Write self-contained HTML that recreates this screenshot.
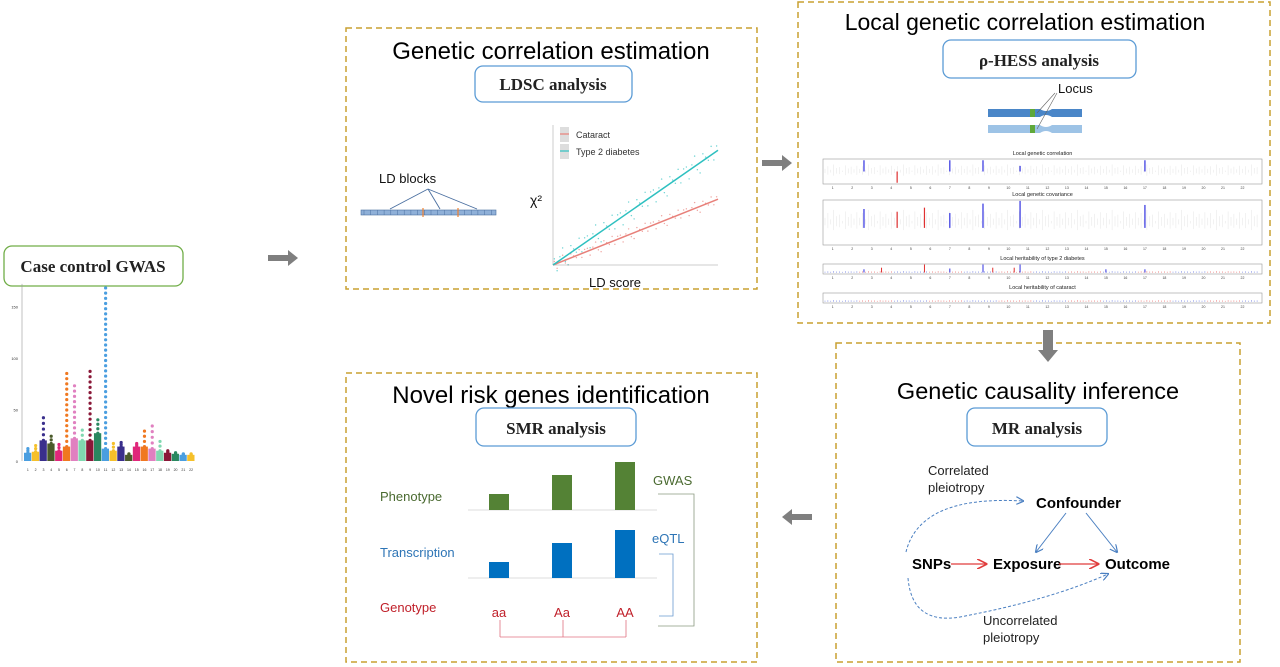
<!DOCTYPE html>
<html><head><meta charset="utf-8"><style>
body{margin:0;background:#fff}
svg{display:block;font-family:"Liberation Sans",sans-serif}
</style></head><body>
<svg id="fig" width="1280" height="667" viewBox="0 0 1280 667" xmlns="http://www.w3.org/2000/svg">
<defs>
<marker id="ab" markerWidth="8" markerHeight="8" refX="7" refY="4" orient="auto"><path d="M0,0 L8,4 L0,8" fill="none" stroke="#4a7fc1" stroke-width="1.2"/></marker>
<marker id="ar" markerWidth="8" markerHeight="8" refX="7" refY="4" orient="auto"><path d="M0,0 L8,4 L0,8" fill="none" stroke="#e03c3c" stroke-width="1.2"/></marker>
</defs>

<rect x="346" y="28" width="411" height="261" fill="none" stroke="#c9a030" stroke-width="1.5" stroke-dasharray="6,4"/>
<rect x="798" y="2" width="472" height="321" fill="none" stroke="#c9a030" stroke-width="1.5" stroke-dasharray="6,4"/>
<rect x="836" y="343" width="404" height="319" fill="none" stroke="#c9a030" stroke-width="1.5" stroke-dasharray="6,4"/>
<rect x="346" y="373" width="411" height="289" fill="none" stroke="#c9a030" stroke-width="1.5" stroke-dasharray="6,4"/>

<text x="551" y="59" font-size="24" text-anchor="middle" fill="#000">Genetic correlation estimation</text>
<text x="1025" y="30" font-size="23" text-anchor="middle" fill="#000">Local genetic correlation estimation</text>
<text x="551" y="403" font-size="24" text-anchor="middle" fill="#000">Novel risk genes identification</text>
<text x="1038" y="399" font-size="23.5" text-anchor="middle" fill="#000">Genetic causality inference</text>

<rect x="4" y="246" width="179" height="40" rx="8" fill="#fff" stroke="#70ad47" stroke-width="1.3"/>
<text x="93" y="272" font-size="17" font-weight="bold" text-anchor="middle" font-family="Liberation Serif,serif" fill="#222">Case control GWAS</text>
<rect x="475" y="66" width="157" height="36" rx="8" fill="#fff" stroke="#5b9bd5" stroke-width="1.3"/>
<text x="553" y="90" font-size="17" font-weight="bold" text-anchor="middle" font-family="Liberation Serif,serif" fill="#222">LDSC analysis</text>
<rect x="943" y="40" width="193" height="38" rx="8" fill="#fff" stroke="#5b9bd5" stroke-width="1.3"/>
<text x="1039" y="66" font-size="17" font-weight="bold" text-anchor="middle" font-family="Liberation Serif,serif" fill="#222">ρ-HESS analysis</text>
<rect x="476" y="408" width="160" height="38" rx="8" fill="#fff" stroke="#5b9bd5" stroke-width="1.3"/>
<text x="556" y="434" font-size="17" font-weight="bold" text-anchor="middle" font-family="Liberation Serif,serif" fill="#222">SMR analysis</text>
<rect x="967" y="408" width="140" height="38" rx="8" fill="#fff" stroke="#5b9bd5" stroke-width="1.3"/>
<text x="1037" y="434" font-size="17" font-weight="bold" text-anchor="middle" font-family="Liberation Serif,serif" fill="#222">MR analysis</text>

<path d="M268,255 h20 v-5 l10,8 l-10,8 v-5 h-20z" fill="#7f7f7f"/>
<path d="M762,160 h20 v-5 l10,8 l-10,8 v-5 h-20z" fill="#7f7f7f"/>
<path d="M1043,330 h10 v20 h5 l-10,12 l-10,-12 h5z" fill="#7f7f7f"/>
<path d="M812,514 h-20 v-5 l-10,8 l10,8 v-5 h20z" fill="#7f7f7f"/>

<g id="manhattan"></g>
<g id="ldsc"></g>
<g id="hess"></g>
<g id="smr"></g>

<g>
<path d="M988,109 h52 q6,4 12,0 h30 v8 h-30 q-6,-4 -12,0 h-52z" fill="#4a86c8"/>
<path d="M988,125 h52 q6,4 12,0 h30 v8 h-30 q-6,-4 -12,0 h-52z" fill="#9dc3e6"/>
<rect x="1030" y="109" width="5" height="8" fill="#5fa83a"/>
<rect x="1030" y="125" width="5" height="8" fill="#5fa83a"/>
<line x1="1037" y1="113" x2="1055" y2="93" stroke="#666" stroke-width="0.6"/>
<line x1="1037" y1="129" x2="1057" y2="93" stroke="#666" stroke-width="0.6"/>
<text x="1058" y="93" font-size="13" fill="#111">Locus</text>
</g>

<g font-weight="bold" font-size="15" fill="#000">
<text x="912" y="569">SNPs</text>
<text x="993" y="569">Exposure</text>
<text x="1105" y="569">Outcome</text>
<text x="1036" y="508">Confounder</text>
<line x1="951" y1="564" x2="986" y2="564" stroke="#e03c3c" stroke-width="1.3" marker-end="url(#ar)"/>
<line x1="1059" y1="564" x2="1098" y2="564" stroke="#e03c3c" stroke-width="1.3" marker-end="url(#ar)"/>
<line x1="1066" y1="513" x2="1036" y2="552" stroke="#4a7fc1" stroke-width="1" marker-end="url(#ab)"/>
<line x1="1086" y1="513" x2="1117" y2="552" stroke="#4a7fc1" stroke-width="1" marker-end="url(#ab)"/>
<path d="M906,552 Q920,495 1023,501" fill="none" stroke="#4a7fc1" stroke-width="1" stroke-dasharray="3,2" marker-end="url(#ab)"/>
<path d="M908,578 Q912,625 960,617 Q1050,600 1108,574" fill="none" stroke="#4a7fc1" stroke-width="1" stroke-dasharray="3,2" marker-end="url(#ab)"/>
<g font-weight="normal" font-size="13" fill="#222">
<text x="928" y="475">Correlated</text>
<text x="928" y="492">pleiotropy</text>
<text x="983" y="625">Uncorrelated</text>
<text x="983" y="642">pleiotropy</text>
</g>
</g>

<script>
var NS="http://www.w3.org/2000/svg";
function mk(p,t,a){var e=document.createElementNS(NS,t);for(var k in a)e.setAttribute(k,a[k]);p.appendChild(e);return e;}

/* ---------- Manhattan ---------- */
var chromLabels=["1","2","3","4","5","6","7","8","9","10","11","12","13","14","15","16","17","18","19","20","21","22"];
var chromPeaks=[12,15,42,24,16,85,73,30,87,40,168,17,18,7,17,29,34,19,10,8,7,7];
var chromBase=[8,9,20,17,10,14,22,20,20,27,12,10,14,6,14,14,12,10,8,7,6,6];
var yTicks=[0,50,100,150];
var mColors=["#4a9ee0","#f5c02a","#3a2f8c","#4a5a2a","#e0267a","#f07820","#e080c0","#80d8b0","#8a1838","#2a8860"];
var mg=document.getElementById('manhattan');
var mx0=24,mx1=195,my0=461;
function my(v){return my0-v*1.03;}
mk(mg,'line',{x1:mx0-2,y1:my(172),x2:mx0-2,y2:my0,stroke:'#999','stroke-width':0.6});
yTicks.forEach(function(t){var e=mk(mg,'text',{x:mx0-6,y:my(t)+2,'font-size':4,'text-anchor':'end',fill:'#333'});e.textContent=t;

});
var cw=(mx1-mx0)/chromPeaks.length;
chromPeaks.forEach(function(p,i){
 var x=mx0+i*cw,c=mColors[i%mColors.length];
 var r=mk(mg,'rect',{x:x,y:my(chromBase[i]),width:cw-0.5,height:my0-my(chromBase[i]),fill:c});
 
 
 var n=Math.max(2,Math.round((p-chromBase[i])/5));
 for(var k=0;k<=n;k++){var v=chromBase[i]+(p-chromBase[i])*k/n;
  var d=mk(mg,'circle',{cx:x+cw/2,cy:my(v),r:1.6,fill:c});
  
  }
 var t=mk(mg,'text',{x:x+cw/2,y:my0+10,'font-size':3.5,'text-anchor':'middle',fill:'#333'});t.textContent=chromLabels[i];
 
 
});

/* ---------- LDSC ---------- */
var ldsc=document.getElementById('ldsc');
var ldSeries=["Cataract","Type 2 diabetes"];
var ldSlopes=[0.47,0.82];
var ldColors=["#e8807a","#2ec0c0"];
var lx0=553,lx1=718,ly0=265,ly1=125;
function lx(v){return lx0+v*(lx1-lx0);} function ly(v){return ly0-v*(ly0-ly1);}
mk(ldsc,'line',{x1:lx0,y1:ly1,x2:lx0,y2:ly0,stroke:'#ccc','stroke-width':1});
mk(ldsc,'line',{x1:lx0,y1:ly0,x2:lx1,y2:ly0,stroke:'#ccc','stroke-width':1});
var jit=[0.03,-0.05,0.02,0.06,-0.03,-0.06,0.04,0.01,-0.02,0.05,-0.04,0.03];
ldSlopes.forEach(function(s,i){
 for(var k=0;k<60;k++){var xv=(k+0.5)/60;var d=mk(ldsc,'circle',{cx:lx(xv),cy:ly(s*xv+jit[k%12]*s*1.5),r:0.7,fill:ldColors[i],opacity:0.7});
  
  }
 var l=mk(ldsc,'line',{x1:lx(0),y1:ly(0),x2:lx(1),y2:ly(s),stroke:ldColors[i],'stroke-width':1.5});
 
 
 mk(ldsc,'rect',{x:560,y:127+i*17,width:9,height:15,fill:'#ddd'});
 mk(ldsc,'line',{x1:560,y1:134+i*17,x2:569,y2:134+i*17,stroke:ldColors[i],'stroke-width':1.2});
 var t=mk(ldsc,'text',{x:576,y:138+i*17,'font-size':9,fill:'#333'});t.textContent=ldSeries[i];
 
 
});
var xl=mk(ldsc,'text',{x:589,y:287,'font-size':13,fill:'#111'});xl.textContent='LD score';


var yl=mk(ldsc,'text',{x:530,y:205,'font-size':14,fill:'#111'});yl.textContent='χ²';


var lb=mk(ldsc,'text',{x:379,y:183,'font-size':13,fill:'#111'});lb.textContent='LD blocks';


mk(ldsc,'rect',{x:361,y:210,width:135,height:5,fill:'#8fb0d8',stroke:'#4a6fa0','stroke-width':0.6});
for(var k=0;k<20;k++)mk(ldsc,'line',{x1:364+k*6.7,y1:210,x2:364+k*6.7,y2:215,stroke:'#4a6fa0','stroke-width':0.5});
[423,458].forEach(function(x){mk(ldsc,'line',{x1:x,y1:208,x2:x,y2:217,stroke:'#f08030','stroke-width':1.2});});
[390,440,477].forEach(function(x){mk(ldsc,'line',{x1:428,y1:189,x2:x,y2:209,stroke:'#4a6fa0','stroke-width':0.9});});

/* ---------- rho-HESS ---------- */
var hg=document.getElementById('hess');
var panelTitles=["Local genetic correlation","Local genetic covariance","Local heritability of type 2 diabetes","Local heritability of cataract"];
var corrPeaks=[[2.6,1],[4.3,-1],[7,1],[8.7,1],[10.6,0.5],[17,1]];
var covPeaks=[[2.6,0.7],[4.3,0.6],[5.7,0.75],[7,0.55],[8.7,0.9],[10.6,1],[17,0.85]];
var t2dPeaks=[[2.6,0.4],[3.5,0.6],[5.7,1],[7,0.5],[8.7,1],[9.2,0.6],[10.3,0.6],[10.6,1],[15,0.4],[17,0.4]];
var panels=[[823,159,439,25],[823,200,439,45],[823,264,439,10],[823,293,439,10]];
var noise=[0.3,0.6,0.2,0.8,0.4,0.5,0.1,0.7,0.35,0.55,0.25,0.65];
panels.forEach(function(p,i){
 var r=mk(hg,'rect',{x:p[0],y:p[1],width:p[2],height:p[3],fill:'#fff',stroke:'#999','stroke-width':0.6});
 
 
 var t=mk(hg,'text',{x:p[0]+p[2]/2,y:p[1]-4,'font-size':5.5,'text-anchor':'middle',fill:'#222'});t.textContent=panelTitles[i];
 
 
 for(var c=1;c<=22;c++){var tx=mk(hg,'text',{x:p[0]+(c-0.5)*p[2]/22.5,y:p[1]+p[3]+5,'font-size':3.5,'text-anchor':'middle',fill:'#444'});tx.textContent=c;}
 var mid=p[1]+p[3]*(i<2?0.5:0.8);
 for(var k=0;k<150;k++){var x=p[0]+2+k*(p[2]-4)/150;var h=noise[k%12]*p[3]*(i<2?0.35:0.12);
  var col=i<2?'#e4e4e4':(Math.floor(k/12)%2?'#e86060':'#6070e0');
  mk(hg,'line',{x1:x,y1:mid-h,x2:x,y2:i<2?mid+h*0.6:mid+0.8,stroke:col,'stroke-width':0.5});}
});
function hx(chr,p){return p[0]+(chr-0.5)*p[2]/22.5;}
corrPeaks.forEach(function(c){var p=panels[0],mid=p[1]+p[3]*0.5;
 var l=mk(hg,'line',{x1:hx(c[0],p),y1:mid,x2:hx(c[0],p),y2:mid-c[1]*p[3]*0.45,stroke:c[1]>0?'#3030e0':'#e03030','stroke-width':1.2});
 
 });
covPeaks.forEach(function(c,j){var p=panels[1],mid=p[1]+p[3]*0.62;
 var l=mk(hg,'line',{x1:hx(c[0],p),y1:mid,x2:hx(c[0],p),y2:mid-c[1]*p[3]*0.6,stroke:(j==1||j==2)?'#e03030':'#3030e0','stroke-width':1.2});
 
 });
t2dPeaks.forEach(function(c,j){var p=panels[2],mid=p[1]+p[3]*0.85;
 var l=mk(hg,'line',{x1:hx(c[0],p),y1:mid,x2:hx(c[0],p),y2:mid-c[1]*p[3]*0.8,stroke:(j==1||j==2||j==5||j==6)?'#e03030':'#3030e0','stroke-width':1});
 
 });

/* ---------- SMR ---------- */
var sg=document.getElementById('smr');
var genotypes=["aa","Aa","AA"];
var phenotypeVals=[16,35,48];
var transcriptionVals=[16,35,48];
var gx=[499,562,625];
function barRow(vals,base,color,name){
 mk(sg,'line',{x1:468,y1:base,x2:657,y2:base,stroke:'#ddd','stroke-width':1});
 vals.forEach(function(v,i){var r=mk(sg,'rect',{x:gx[i]-10,y:base-v,width:20,height:v,fill:color});
  
  });
}
barRow(phenotypeVals,510,'#548235','phenotype');
barRow(transcriptionVals,578,'#0070c0','transcription');
[['Phenotype',501,'#4a6a30'],['Transcription',557,'#2e75b6'],['Genotype',612,'#c0202a']].forEach(function(a){
 var t=mk(sg,'text',{x:380,y:a[1],'font-size':13,fill:a[2]});t.textContent=a[0];
 
 });
genotypes.forEach(function(g,i){var t=mk(sg,'text',{x:gx[i],y:617,'font-size':13,'text-anchor':'middle',fill:'#c0202a'});t.textContent=g;
 
 
 mk(sg,'line',{x1:gx[i]+1,y1:620,x2:gx[i]+1,y2:637,stroke:'#e07080','stroke-width':0.8});});
mk(sg,'line',{x1:gx[0]+1,y1:637,x2:gx[2]+1,y2:637,stroke:'#e07080','stroke-width':0.8});
var gw=mk(sg,'text',{x:653,y:485,'font-size':13,fill:'#4a6a30'});gw.textContent='GWAS';


mk(sg,'path',{d:'M658,494 H694 V626 H658',fill:'none',stroke:'#8a9a80','stroke-width':0.8});
var eq=mk(sg,'text',{x:652,y:543,'font-size':13,fill:'#2e75b6'});eq.textContent='eQTL';


mk(sg,'path',{d:'M659,554 H673 V616 H659',fill:'none',stroke:'#6a9ad0','stroke-width':0.8});
</script>
</svg>
</body></html>
